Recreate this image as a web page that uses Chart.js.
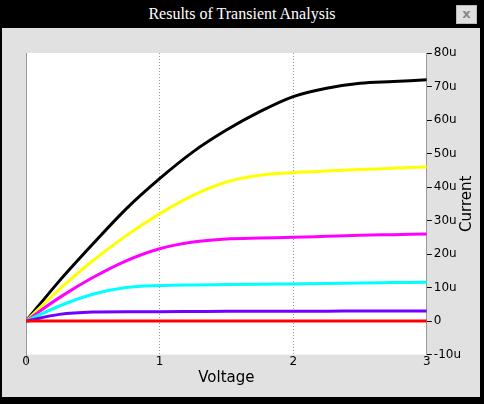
<!DOCTYPE html>
<html>
<head>
<script src="https://cdn.jsdelivr.net/npm/chart.js@4"></script>
<style>
  body { margin: 0; background: #000; }
  #win { position: absolute; left: 0; top: 0; width: 484px; height: 404px; background: #000; }
  #title { position: absolute; left: 0; top: 0; width: 484px; height: 28px; line-height: 28px; text-align: center;
           color: #fff; font-family: "Liberation Serif", serif; font-size: 16px; }
  #close { position: absolute; left: 456px; top: 5px; width: 19px; height: 17px; background: #e0e0e0; border: 1px solid #bbb;
           color: #888; font: bold 13px "DejaVu Sans", sans-serif; text-align: center; line-height: 16px; }
  #area { position: absolute; left: 2px; top: 28px; width: 478px; height: 369px; background: #e1e1e1; }
</style>
</head>
<body>
<div id="win">
  <div id="title">Results of Transient Analysis</div>
  <div id="close">x</div>
  <div id="area"><canvas id="c" width="478" height="369"></canvas></div>
</div>
<script>
const voltages = [0, 0.25, 0.5, 0.75, 1, 1.25, 1.5, 1.75, 2, 2.25, 2.5, 2.75, 3];
const black   = [0, 12, 23, 33.5, 42.5, 50.5, 57, 62.5, 67, 69.5, 71, 71.5, 72];
const yellow  = [0, 9.5, 18, 25.5, 32, 37.5, 41.5, 43.5, 44.3, 44.8, 45.2, 45.6, 46];
const magenta = [0, 7, 13, 18, 21.6, 23.6, 24.5, 24.8, 25, 25.3, 25.6, 25.8, 26];
const cyan    = [0, 4.5, 8, 10, 10.6, 10.8, 10.9, 11, 11.1, 11.2, 11.4, 11.5, 11.6];
const purple  = [0, 2, 2.7, 2.8, 2.8, 2.85, 2.9, 2.9, 2.95, 2.95, 3, 3, 3];
const red     = [0, 0, 0, 0, 0, 0, 0, 0, 0, 0, 0, 0, 0];
const yTicks  = [-10, 0, 10, 20, 30, 40, 50, 60, 70, 80];

const series = [[black, '#000000'], [yellow, '#ffff00'], [magenta, '#ff00ff'],
                [cyan, '#00ffff'], [purple, '#7000ff'], [red, '#ff0000']].reverse();

const plotBg = {
    id: 'plotBg',
    beforeDraw(chart) {
        const a = chart.chartArea, ctx = chart.ctx;
        ctx.save();
        ctx.fillStyle = '#fff';
        ctx.fillRect(a.left, a.top, a.right - a.left, a.bottom - a.top);
        ctx.strokeStyle = '#999';
        ctx.lineWidth = 1;
        ctx.beginPath(); ctx.moveTo(a.left + 0.5, a.top); ctx.lineTo(a.left + 0.5, a.bottom + 8); ctx.stroke();
        ctx.restore();
    },
    afterDraw(chart) {
        // y title reads bottom-to-top on the right side
        const a = chart.chartArea, ctx = chart.ctx;
        ctx.save();
        ctx.translate(465, (a.top + a.bottom) / 2);
        ctx.rotate(-Math.PI / 2);
        ctx.fillStyle = '#000';
        ctx.font = '15px "DejaVu Sans"';
        ctx.textAlign = 'center';
        ctx.textBaseline = 'middle';
        ctx.fillText('Current', 0, 0);
        ctx.restore();
    }
};

new Chart(document.getElementById('c'), {
    type: 'line',
    data: {
        datasets: series.map(([vals, col]) => ({
            data: voltages.map((v, i) => ({ x: v, y: vals[i] })),
            borderColor: col, borderWidth: 3, pointRadius: 0, tension: 0.4, cubicInterpolationMode: 'monotone'
        }))
    },
    options: {
        responsive: false, animation: false,
        layout: { padding: { left: 24, top: 25, right: 17, bottom: 10 } },
        plugins: { legend: { display: false }, tooltip: { enabled: false } },
        scales: {
            x: {
                type: 'linear', min: 0, max: 3,
                ticks: { stepSize: 1, color: '#000', font: { family: 'DejaVu Sans', size: 12 }, padding: 0 },
                grid: { color: '#999', drawTicks: false, tickLength: 0, lineWidth: c => (c.tick.value === 1 || c.tick.value === 2) ? 1 : 0 },
                border: { display: false, dash: [1, 2] },
                title: { display: true, text: 'Voltage', color: '#000', font: { family: 'DejaVu Sans', size: 15 }, padding: 0 }
            },
            y: {
                position: 'right', min: -10, max: 80,
                afterBuildTicks: ax => { ax.ticks = yTicks.map(v => ({ value: v })); },
                ticks: { color: '#000', font: { family: 'DejaVu Sans', size: 12 }, padding: 2, callback: v => v === 0 ? '0' : v + 'u' },
                grid: { drawOnChartArea: false, color: '#000', tickLength: 5 },
                border: { display: true, color: '#999', dash: [1, 2] },
                title: { display: false }
            }
        }
    },
    plugins: [plotBg]
});
</script>
</body>
</html>
